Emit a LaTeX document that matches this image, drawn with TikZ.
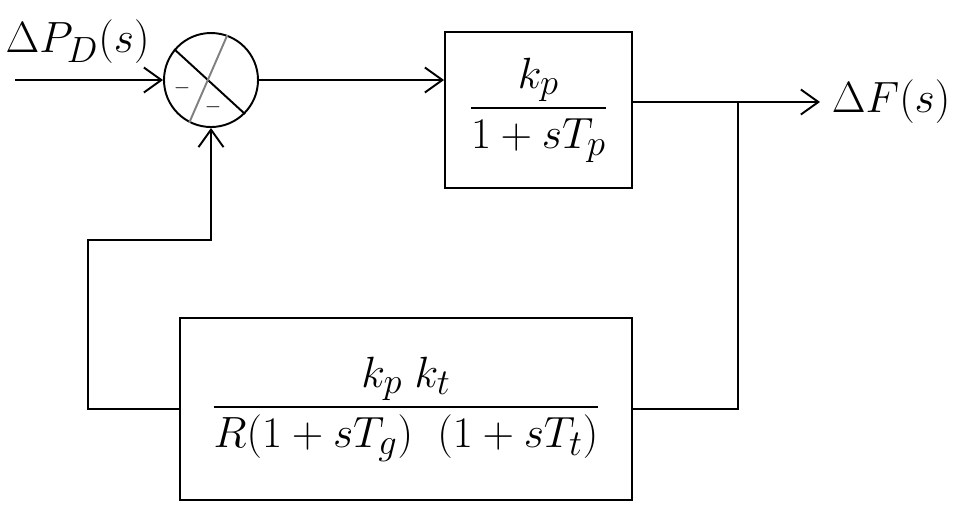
\documentclass[tikz,border=0pt]{standalone}
\usepackage{amsmath}
\usetikzlibrary{shapes,arrows.meta,positioning,calc}

\begin{document}
\begin{tikzpicture}[
    line width=1.1pt,
    block/.style={rectangle, draw, align=center, font=\Huge},
    sumnode/.style={circle, draw, minimum size=1.88cm, inner sep=0pt},
    sig/.style={font=\Huge},
    arrow/.style={-{Straight Barb[length=3.5mm, width=5mm]}}
]
\useasboundingbox (0,0) rectangle (19.12,-10.32);

% Summing point
\node[sumnode] (sum) at (4.22,-1.6) {};
\draw (sum.140) -- (sum.315);
\draw[gray] (sum.70) -- (sum.243);
\node[font=\large] (minus-l) at ($(sum.center)+(-0.58,-0.16)$) {$-$};
\node[font=\large] (minus-b) at ($(sum.center)+(0.04,-0.54)$) {$-$};

% Input
\coordinate (in) at (0.3,-1.6);
\node[sig] (in-label) at (1.55,-0.84) {$\Delta P_D(s)$};

% Forward block
\node[block, minimum width=3.74cm, minimum height=3.12cm] (gp) at (10.77,-2.2) {$\dfrac{k_p}{1+sT_p}$};

% Output
\coordinate (out) at (16.4,-2.04);
\coordinate (branch) at (14.76,-2.04);
\node[sig, right=0.1cm of out] (out-label) {$\Delta F(s)$};

% Feedback block
\node[block, minimum width=9.04cm, minimum height=3.64cm] (gfb) at (8.12,-8.18) {$\dfrac{k_p\;k_t}{R(1+sT_g)\;\;(1+sT_t)}$};
\coordinate (fb-corner) at (1.76,-4.8);

% Arrows - forward path
\draw[arrow] (in) -- (sum.west);
\draw[arrow] (sum.east) -- (sum.east -| gp.west);
\draw[arrow] (gp.east |- out) -- (out);

% Arrows - feedback path
\draw (branch) |- (gfb.east);
\draw[arrow] (gfb.west) -| (fb-corner) -| (sum.south);

\end{tikzpicture}
\end{document}
